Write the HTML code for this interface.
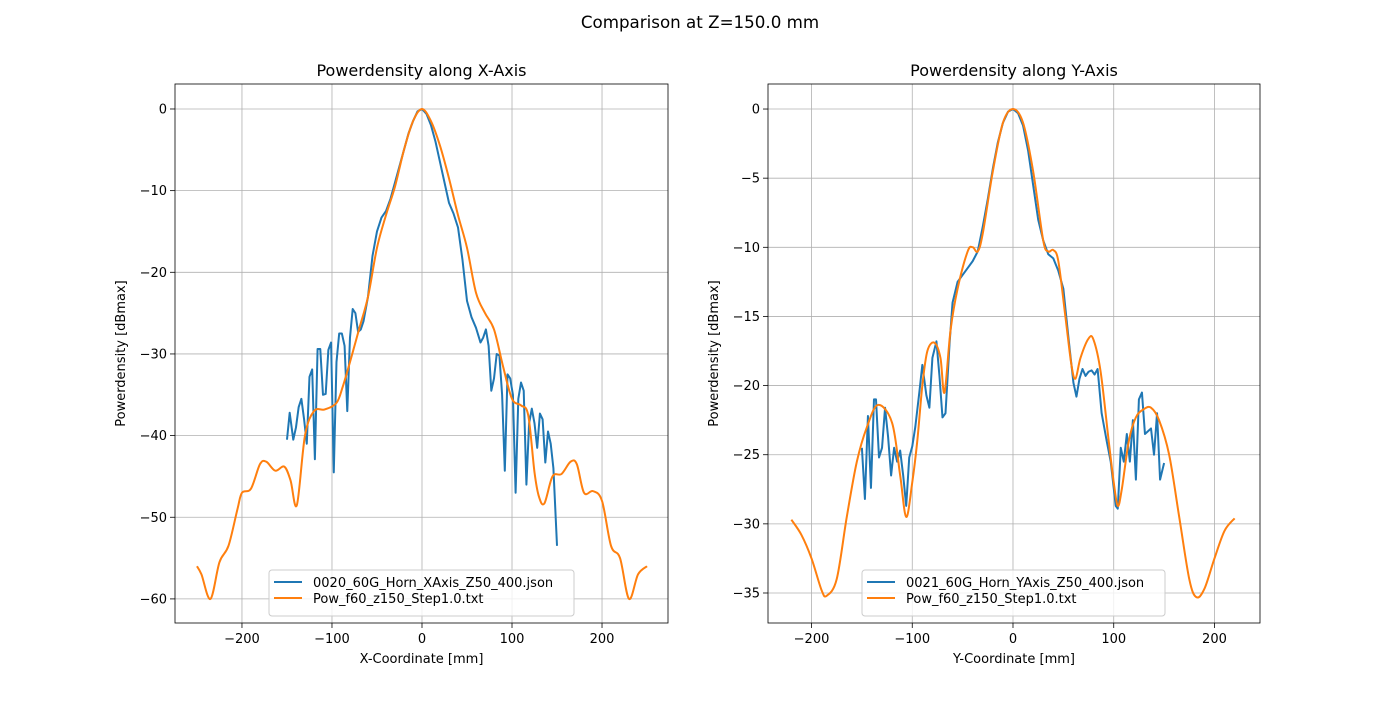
<!DOCTYPE html>
<html><head><meta charset="utf-8"><style>
body{margin:0;background:#fff}
svg{font-family:"DejaVu Sans","Liberation Sans",sans-serif}
</style></head><body>
<svg id="fig" width="1400" height="700" viewBox="0 0 1400 700">
<rect width="1400" height="700" fill="#fff"/>
<text x="700" y="28" text-anchor="middle" font-size="16.7">Comparison at Z=150.0 mm</text>
</svg>
<script>
const xTicks=[-200,-100,0,100,200];
const leftYTicks=[0,-10,-20,-30,-40,-50,-60];
const rightYTicks=[0,-5,-10,-15,-20,-25,-30,-35];
const lxOrangeX=[-250,-245,-235,-225,-215,-205,-200,-190,-180,-173,-163,-153,-146,-139,-130,-120,-108,-95,-88,-80,-70,-60,-50,-40,-30,-20,-10,0,10,20,30,40,50,60,70,80,90,100,110,118,125,130,136,145,155,165,172,180,190,200,210,220,230,240,250];
const lxOrangeY=[-56,-57,-60,-55.5,-53.5,-49,-47,-46.5,-43.5,-43.2,-44.3,-43.8,-45.5,-48.5,-40,-37,-36.8,-36,-34,-31,-27,-23,-17,-13,-9.5,-5,-1.5,0,-1.5,-4.5,-8.5,-13,-17,-22.5,-25,-27,-31.5,-35.5,-36.3,-37.5,-44.5,-47.5,-48.3,-45,-44.7,-43.2,-43.5,-47,-46.8,-48,-53.5,-55,-60,-57,-56];
const lxBlueX=[-150,-147,-143,-140,-137,-134,-131,-128,-125,-122,-119,-116,-113,-110,-107,-104,-101,-98,-95,-92,-89,-86,-83,-80,-77,-74,-71,-68,-65,-60,-55,-50,-45,-40,-35,-30,-25,-20,-15,-10,-5,0,5,10,15,20,25,30,35,40,45,50,55,60,65,68,71,74,77,80,83,86,89,92,95,98,101,104,107,110,113,116,119,122,125,128,131,134,137,140,143,146,150];
const lxBlueY=[-40.5,-37.2,-40.5,-39,-36.5,-35.5,-38,-41,-32.8,-31.9,-42.9,-29.4,-29.4,-35,-34.9,-29.5,-28.6,-44.5,-31,-27.5,-27.5,-29,-37,-28,-24.5,-25,-27.3,-27,-26,-23,-18,-15,-13.3,-12.5,-11,-9,-7,-5,-3,-1.5,-0.3,0,-0.6,-2,-4,-6.5,-9,-11.5,-12.8,-14.5,-18.5,-23.5,-25.5,-26.8,-28.6,-28,-27,-29,-34.5,-33,-30,-30.2,-35,-44.3,-32.5,-33,-35,-47,-35.5,-33.5,-34.5,-46,-38.5,-36.7,-38.5,-41.5,-37.3,-38,-43.3,-39.5,-41,-44,-53.5];
const ryOrangeX=[-220,-210,-200,-190,-185,-175,-165,-155,-145,-134,-120,-112,-106,-100,-95,-90,-85,-78,-72,-68,-62,-55,-45,-40,-35,-30,-20,-10,0,10,20,30,35,40,45,52,58,62,67,75,80,87,95,100,104,108,115,122,130,137,145,155,165,175,182,190,200,210,220];
const ryOrangeY=[-29.7,-30.8,-32.5,-34.8,-35.2,-34,-29.5,-25.5,-23,-21.4,-22.7,-26.5,-29.5,-27,-24,-20,-17.5,-16.9,-18,-20.5,-16,-13,-10.3,-10,-10.3,-9,-4.5,-1,0,-1,-4.5,-9.5,-10.3,-10.2,-11,-15,-18.5,-19.5,-18,-16.6,-16.7,-19,-24,-27,-28.7,-27.5,-24,-22.3,-21.7,-21.6,-22.5,-25,-29.5,-34,-35.3,-34.7,-32.5,-30.5,-29.6];
const ryBlueX=[-150,-147,-144,-141,-138,-136,-133,-130,-127,-124,-121,-118,-115,-112,-109,-106,-103,-100,-97,-93,-90,-86,-83,-80,-76,-73,-70,-67,-63,-60,-55,-50,-45,-40,-35,-30,-25,-20,-15,-10,-5,0,5,10,15,20,25,30,35,40,45,50,55,60,63,66,69,72,75,78,81,84,88,93,97,102,104,107,110,113,116,119,122,125,128,131,134,137,140,143,146,150];
const ryBlueY=[-24.5,-28.2,-22.2,-27.4,-21,-21,-25.2,-24.5,-21.6,-23.7,-26.5,-24.5,-25.5,-24.7,-26.5,-28.7,-25.2,-24.4,-23,-20.5,-18.5,-20.7,-21.6,-18,-16.8,-19.3,-22.3,-22,-17,-14,-12.5,-12,-11.5,-11,-10.3,-8.5,-6.5,-4.3,-2.4,-1,-0.2,0,-0.3,-1.2,-3,-5.5,-8,-9.5,-10.5,-10.8,-11.7,-13,-16.5,-19.8,-20.8,-19.5,-18.8,-19.3,-19,-18.9,-19.2,-18.8,-22,-24,-25.5,-28.7,-28.9,-24.5,-25.5,-23.5,-25.5,-22.5,-26.8,-21,-20.5,-23.5,-23.3,-23.1,-25,-22,-26.8,-25.6];

const NS='http://www.w3.org/2000/svg';
const svg=document.getElementById('fig');
function mk(tag,attrs,parent){const e=document.createElementNS(NS,tag);for(const k in attrs)e.setAttribute(k,attrs[k]);(parent||svg).appendChild(e);return e;}

function panel(cfg){
  const g=mk('g',{});
  
  
  const sx=v=>cfg.L+(v-cfg.xmin)/(cfg.xmax-cfg.xmin)*(cfg.R-cfg.L);
  const sy=v=>cfg.T+(cfg.ymax-v)/(cfg.ymax-cfg.ymin)*(cfg.B-cfg.T);
  xTicks.forEach(t=>{
    const x=sx(t);
    const gl=mk('line',{x1:x,x2:x,y1:cfg.T,y2:cfg.B,stroke:'#b0b0b0','stroke-width':0.8},g);
    
    
    mk('line',{x1:x,x2:x,y1:cfg.B,y2:cfg.B+5,stroke:'#000','stroke-width':0.8},g);
    const tx=mk('text',{x:x,y:cfg.B+20,'text-anchor':'middle','font-size':13},g);
    tx.textContent=t<0?'\u2212'+(-t):String(t);
    
    
  });
  cfg.yTicks.forEach(t=>{
    const y=sy(t);
    const gl=mk('line',{x1:cfg.L,x2:cfg.R,y1:y,y2:y,stroke:'#b0b0b0','stroke-width':0.8},g);
    
    
    mk('line',{x1:cfg.L-5,x2:cfg.L,y1:y,y2:y,stroke:'#000','stroke-width':0.8},g);
    const tx=mk('text',{x:cfg.L-8,y:y+4.5,'text-anchor':'end','font-size':13},g);
    tx.textContent=t<0?'\u2212'+(-t):String(t);
    
    
  });
  const clipId='clip'+cfg.L;
  const cp=mk('clipPath',{id:clipId},g);
  mk('rect',{x:cfg.L,y:cfg.T,width:cfg.R-cfg.L,height:cfg.B-cfg.T},cp);
  function line(xs,ys,color,name,smooth){
    const P=xs.map((v,i)=>[sx(v),sy(ys[i])]);
    let d='M'+P[0][0].toFixed(2)+' '+P[0][1].toFixed(2);
    for(let i=1;i<P.length;i++){
      if(!smooth){d+=' L'+P[i][0].toFixed(2)+' '+P[i][1].toFixed(2);continue;}
      const p0=P[Math.max(0,i-2)],p1=P[i-1],p2=P[i],p3=P[Math.min(P.length-1,i+1)];
      const c1=[p1[0]+(p2[0]-p0[0])/6,p1[1]+(p2[1]-p0[1])/6];
      const c2=[p2[0]-(p3[0]-p1[0])/6,p2[1]-(p3[1]-p1[1])/6];
      d+=' C'+c1.map(v=>v.toFixed(2)).join(' ')+' '+c2.map(v=>v.toFixed(2)).join(' ')+' '+p2[0].toFixed(2)+' '+p2[1].toFixed(2);
    }
    const p=mk('path',{d:d,fill:'none',stroke:color,'stroke-width':2,'stroke-linejoin':'round','clip-path':'url(#'+clipId+')'},g);
    
    
  }
  line(cfg.bx,cfg.by,'#1f77b4','measured-series-line',false);
  line(cfg.ox,cfg.oy,'#ff7f0e','simulated-series-line',true);
  const fr=mk('rect',{x:cfg.L,y:cfg.T,width:cfg.R-cfg.L,height:cfg.B-cfg.T,fill:'none',stroke:'#000','stroke-width':0.8},g);
  
  
  const cx=(cfg.L+cfg.R)/2;
  const ti=mk('text',{x:cx,y:cfg.T-8,'text-anchor':'middle','font-size':16},g);
  ti.textContent=cfg.title;
  
  
  const xl=mk('text',{x:cx,y:cfg.B+40,'text-anchor':'middle','font-size':13},g);
  xl.textContent=cfg.xlabel;
  
  
  const ym=(cfg.T+cfg.B)/2, yx=cfg.L-cfg.ylabOff;
  const yl=mk('text',{x:yx,y:ym,'text-anchor':'middle','font-size':13,transform:'rotate(-90 '+yx+' '+ym+')'},g);
  yl.textContent='Powerdensity [dBmax]';
  
  
  const lg=mk('g',{},g);
  
  
  mk('rect',{x:cfg.lgx,y:570,width:cfg.lgw,height:46,rx:3,fill:'#fff','fill-opacity':0.8,stroke:'#ccc','stroke-width':1},lg);
  [[cfg.bname,'#1f77b4',587],[cfg.oname,'#ff7f0e',603]].forEach(([nm,c,yy])=>{
    const e=mk('g',{},lg);
    
    
    mk('line',{x1:cfg.lgx+5,x2:cfg.lgx+33,y1:yy-5,y2:yy-5,stroke:c,'stroke-width':2},e);
    const t=mk('text',{x:cfg.lgx+44,y:yy,'font-size':13},e);
    t.textContent=nm;
  });
}
panel({name:'x-axis-panel',L:175,R:668,T:84,B:623,xmin:-274.4,xmax:273.3,ymin:-62.95,ymax:3.06,yTicks:leftYTicks,
  bx:lxBlueX,by:lxBlueY,ox:lxOrangeX,oy:lxOrangeY,title:'Powerdensity along X-Axis',xlabel:'X-Coordinate [mm]',ylabOff:50,
  lgx:269,lgw:305,bname:'0020_60G_Horn_XAxis_Z50_400.json',oname:'Pow_f60_z150_Step1.0.txt'});
panel({name:'y-axis-panel',L:768,R:1260,T:84,B:623,xmin:-243.2,xmax:245.2,ymin:-37.17,ymax:1.81,yTicks:rightYTicks,
  bx:ryBlueX,by:ryBlueY,ox:ryOrangeX,oy:ryOrangeY,title:'Powerdensity along Y-Axis',xlabel:'Y-Coordinate [mm]',ylabOff:50,
  lgx:862,lgw:303,bname:'0021_60G_Horn_YAxis_Z50_400.json',oname:'Pow_f60_z150_Step1.0.txt'});
</script>
</body></html>
